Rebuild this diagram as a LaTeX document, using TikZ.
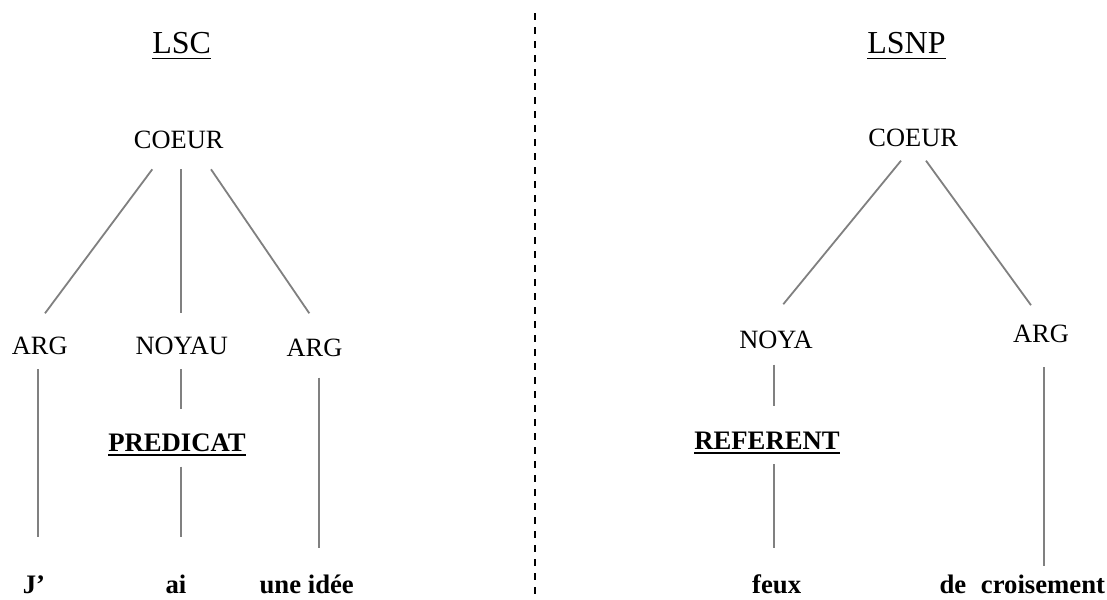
\documentclass[tikz,border=0pt]{standalone}
\usepackage{fontspec}
\setmainfont{Liberation Serif}
\usetikzlibrary{calc}
\begin{document}
\begin{tikzpicture}[x=1pt,y=-1pt,
  lbl/.style={inner sep=0pt,anchor=base,font=\fontsize{26.4}{30}\selectfont},
  ttl/.style={inner sep=0pt,anchor=base,font=\fontsize{32}{36}\selectfont},
  bld/.style={inner sep=0pt,anchor=base,font=\fontsize{26.7}{30}\selectfont\bfseries},
  branch/.style={draw=black!50,line width=1.8pt},
  ttlline/.style={draw=black,line width=1.4pt},
  bldline/.style={draw=black,line width=2.2pt},
  divider/.style={draw=black,line width=2pt,dash pattern=on 7pt off 7pt}]
\useasboundingbox (0,0) rectangle (1107,599);
\fill[white] (0,0) rectangle (1107,599);

% ---- left tree (LSC)
\node[ttl] (lsc) at (181.7,54) {LSC};
\node[lbl] (coeurL) at (178.7,148.3) {COEUR};
\node[lbl] (argL) at (39.7,354) {ARG};
\node[lbl] (noyau) at (181.7,354) {NOYAU};
\node[lbl] (argR) at (314.5,356) {ARG};
\node[bld] (pred) at (177,451.7) {PREDICAT};
\node[bld] (j) at (34,593.5) {J’};
\node[bld] (ai) at (176,593.5) {ai};
\node[bld] (idee) at (306.7,593.5) {une idée};

\draw[ttlline] ($(lsc.base west)+(0,4.7)$) -- ($(lsc.base east)+(0,4.7)$);
\draw[bldline] ($(pred.base west)+(0,3.6)$) -- ($(pred.base east)+(0,3.6)$);

\draw[branch] ($(coeurL.base)+(-26.4,21)$) -- ($(argL.base)+(5.3,-40.7)$);
\draw[branch] ($(coeurL.base)+(2.6,21)$) -- ($(noyau.base)+(-0.4,-40.7)$);
\draw[branch] ($(coeurL.base)+(32.3,21)$) -- ($(argR.base)+(-5.2,-42.7)$);
\draw[branch] ($(argL.base)+(-1.7,15.3)$) -- ($(j.base)+(4,-56.8)$);
\draw[branch] ($(noyau.base)+(-0.4,15.3)$) -- ($(pred.base)+(4.3,-42.4)$);
\draw[branch] ($(pred.base)+(4.3,15)$) -- ($(ai.base)+(5.3,-56.8)$);
\draw[branch] ($(argR.base)+(4.8,21.7)$) -- ($(idee.base)+(12.6,-45.2)$);

% ---- divider
\coordinate (dtop) at (535.3,13.3);
\coordinate (dbot) at (535.3,594);
\draw[divider] (dtop) -- (dbot);

% ---- right tree (LSNP)
\node[ttl] (lsnp) at (906.5,54) {LSNP};
\node[lbl] (coeurR) at (913.2,146) {COEUR};
\node[lbl] (noya) at (776,348.2) {NOYA};
\node[lbl] (argR2) at (1041,342.6) {ARG};
\node[bld] (ref) at (767,449.3) {REFERENT};
\node[bld] (feux) at (776.7,593.5) {feux};
\node[bld] (croi) at (1022.3,593.5) {de\hspace{0.55em}croisement};

\draw[ttlline] ($(lsnp.base west)+(0,4.7)$) -- ($(lsnp.base east)+(0,4.7)$);
\draw[bldline] ($(ref.base west)+(0,3.6)$) -- ($(ref.base east)+(0,3.6)$);

\draw[branch] ($(coeurR.base)+(-12.2,14.7)$) -- ($(noya.base)+(7.3,-44)$);
\draw[branch] ($(coeurR.base)+(12.8,14.7)$) -- ($(argR2.base)+(-10,-37.4)$);
\draw[branch] ($(noya.base)+(-1.8,16.3)$) -- ($(ref.base)+(7.2,-42.9)$);
\draw[branch] ($(ref.base)+(7.2,14.7)$) -- ($(feux.base)+(-2.5,-45.8)$);
\draw[branch] ($(argR2.base)+(2.6,24.7)$) -- ($(croi.base)+(21.3,-27.3)$);
\end{tikzpicture}
\end{document}
